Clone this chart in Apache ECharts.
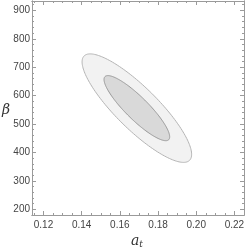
<!DOCTYPE html>
<html><head><meta charset="utf-8">
<script src="https://cdn.jsdelivr.net/npm/echarts@6/dist/echarts.min.js"></script>
<style>html,body{margin:0;padding:0;background:#fff}#c{width:249px;height:251px}</style>
</head><body><div id="c"></div>
<script>
// Axis ranges and ticks
const xRange = [0.114, 0.225];
const yRange = [180, 933];
const xMajor = [0.12, 0.14, 0.16, 0.18, 0.20, 0.22];
const xLabels = ['0.12', '0.14', '0.16', '0.18', '0.20', '0.22'];
const xMinor = [0.115, 0.125, 0.13, 0.135, 0.145, 0.15, 0.155, 0.165, 0.17, 0.175, 0.185, 0.19, 0.195, 0.205, 0.21, 0.215];
const yMajor = [200, 300, 400, 500, 600, 700, 800, 900];
const yLabels = ['200', '300', '400', '500', '600', '700', '800', '900'];
const yMinor = [220, 240, 260, 280, 320, 340, 360, 380, 420, 440, 460, 480, 520, 540, 560, 580, 620, 640, 660, 680, 720, 740, 760, 780, 820, 840, 860, 880, 920];
// Confidence ellipses: centre and conjugate semi-axis vectors (a_t, beta)
const ellipseCenter = [0.1689, 556];
const outerSemiAxes = [[0.02762, -183.6], [-0.00773, -52.4]];
const innerSemiAxes = [[0.01668, -111.0], [-0.00415, -28.3]];

function boundary(c, ax, n) {
  const pts = [];
  for (let i = 0; i < n; i++) {
    const t = 2 * Math.PI * i / n;
    pts.push([c[0] + ax[0][0] * Math.cos(t) + ax[1][0] * Math.sin(t),
              c[1] + ax[0][1] * Math.cos(t) + ax[1][1] * Math.sin(t)]);
  }
  return pts;
}
const outerPts = boundary(ellipseCenter, outerSemiAxes, 180);
const innerPts = boundary(ellipseCenter, innerSemiAxes, 180);

const frameColor = '#9a9a9a';
const labelStyle = {color: '#444', fontFamily: 'Liberation Sans, Arial, sans-serif', fontSize: 10};

function xAx(pos, ticks, len, labels) {
  return {
    type: 'value', position: pos, min: xRange[0], max: xRange[1],
    axisLine: {show: true, lineStyle: {color: frameColor, width: 1}},
    axisTick: {show: true, inside: true, length: len, customValues: ticks, lineStyle: {color: frameColor}},
    axisLabel: labels ? Object.assign({show: true, margin: 5, customValues: xMajor,
      formatter: v => xLabels[xMajor.findIndex(m => Math.abs(m - v) < 1e-9)]}, labelStyle) : {show: false},
    splitLine: {show: false}
  };
}
function yAx(pos, ticks, len, labels) {
  return {
    type: 'value', position: pos, min: yRange[0], max: yRange[1],
    axisLine: {show: true, lineStyle: {color: frameColor, width: 1}},
    axisTick: {show: true, inside: true, length: len, customValues: ticks, lineStyle: {color: frameColor}},
    axisLabel: labels ? Object.assign({show: true, margin: 2, customValues: yMajor,
      formatter: v => yLabels[yMajor.findIndex(m => Math.abs(m - v) < 1e-9)]}, labelStyle) : {show: false},
    splitLine: {show: false}
  };
}

function ellipseSeries(pts, fill, stroke) {
  return {
    type: 'custom', xAxisIndex: 0, yAxisIndex: 0, silent: true,
    data: [ellipseCenter],
    renderItem: function (params, api) {
      return {type: 'polygon', shape: {points: pts.map(p => api.coord(p))},
        style: {fill: fill, stroke: stroke, lineWidth: 1}};
    }
  };
}

const chart = echarts.init(document.getElementById('c'), null, {renderer: 'canvas'});
chart.setOption({
  animation: false,
  grid: {left: 32, top: 1, right: 5, bottom: 36},
  xAxis: [xAx('bottom', xMajor, 4, true), xAx('bottom', xMinor, 2, false),
          xAx('top', xMajor, 4, false), xAx('top', xMinor, 2, false)],
  yAxis: [yAx('left', yMajor, 4, true), yAx('left', yMinor, 2, false),
          yAx('right', yMajor, 4, false), yAx('right', yMinor, 2, false)],
  series: [ellipseSeries(outerPts, '#f2f2f2', '#b4b4b4'),
           ellipseSeries(innerPts, '#d9d9d9', '#9a9a9a')],
  graphic: [
    {type: 'text', left: 131, top: 234, style: {text: '{a|a}{t|t}', rich: {
      a: {fontFamily: 'DejaVu Serif, serif', fontStyle: 'italic', fontSize: 14, fill: '#333'},
      t: {fontFamily: 'DejaVu Serif, serif', fontStyle: 'italic', fontSize: 9, fill: '#333', padding: [8, 0, 0, 0]}}}},
    {type: 'text', left: 2, top: 103, style: {text: 'β', fontFamily: 'DejaVu Serif, serif', fontStyle: 'italic', fontSize: 14, fill: '#333'}}
  ]
});
</script></body></html>
